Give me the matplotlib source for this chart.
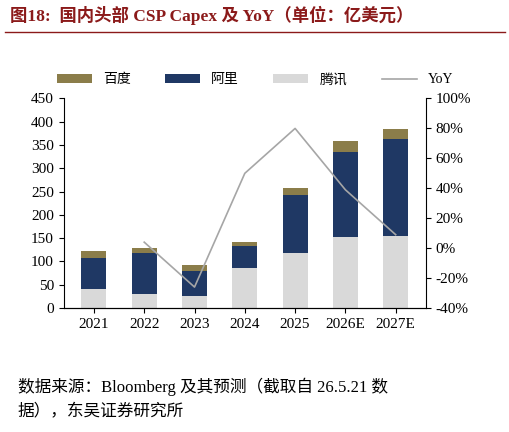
import matplotlib
matplotlib.use("Agg")
import matplotlib.pyplot as plt
import numpy as np

plt.rcParams['font.family'] = ['Liberation Serif', 'Noto Sans CJK SC']

years = ['2021', '2022', '2023', '2024', '2025', '2026E', '2027E']
tencent = [40, 30, 25, 85, 118, 152, 155]
alibaba = [68, 88, 55, 48, 125, 183, 207]
baidu = [14, 10, 13, 9, 15, 23, 23]
yoy = [None, 4, -26, 50, 80, 39, 9]

fig = plt.figure(figsize=(5.10, 4.32), dpi=100)
ax = fig.add_axes([0.125, 0.287, 0.71, 0.485])
x = np.arange(len(years))
w = 0.5
ax.bar(x, tencent, w, color='#D9D9D9', label='腾讯')
ax.bar(x, alibaba, w, bottom=tencent, color='#1F3864', label='阿里')
b2 = np.array(tencent) + np.array(alibaba)
ax.bar(x, baidu, w, bottom=b2, color='#8B7D4A', label='百度')
ax.set_ylim(0, 450)
ax.set_yticks(range(0, 451, 50))
ax.set_xlim(-0.6, 6.6)
ax.set_xticks(x)
ax.set_xticklabels(years)
for s in ['top', 'right']:
    ax.spines[s].set_visible(False)
ax.tick_params(labelsize=11)

ax2 = ax.twinx()
xs = [i for i, v in enumerate(yoy) if v is not None]
ys = [v for v in yoy if v is not None]
ax2.plot(xs, ys, color='#A6A6A6', lw=1.2, label='YoY')
ax2.set_ylim(-40, 100)
ax2.set_yticks(range(-40, 101, 20))
ax2.set_yticklabels([f'{v}%' for v in range(-40, 101, 20)])
ax2.tick_params(labelsize=11)
for s in ['top', 'left']:
    ax2.spines[s].set_visible(False)

h1, l1 = ax.get_legend_handles_labels()
h2, l2 = ax2.get_legend_handles_labels()
order = [2, 1, 0]
fig.legend([h1[i] for i in order] + h2, [l1[i] for i in order] + l2,
           loc='center', bbox_to_anchor=(0.5, 0.815), ncol=4, frameon=False,
           fontsize=10, handlelength=2.5, columnspacing=2.5)

fig.text(0.02, 0.965, '图18:  国内头部 CSP Capex 及 YoY（单位：亿美元）', fontsize=12.5,
         fontweight='bold', color='#8B1A1A', va='center')
fig.add_artist(plt.Line2D([0.01, 0.99], [0.925, 0.925], color='#8B1A1A', lw=1))
fig.text(0.035, 0.105, '数据来源：Bloomberg 及其预测（截取自 26.5.21 数', fontsize=12, va='center')
fig.text(0.035, 0.045, '据），东吴证券研究所', fontsize=12, va='center')
fig.savefig('out.png', dpi=100)
